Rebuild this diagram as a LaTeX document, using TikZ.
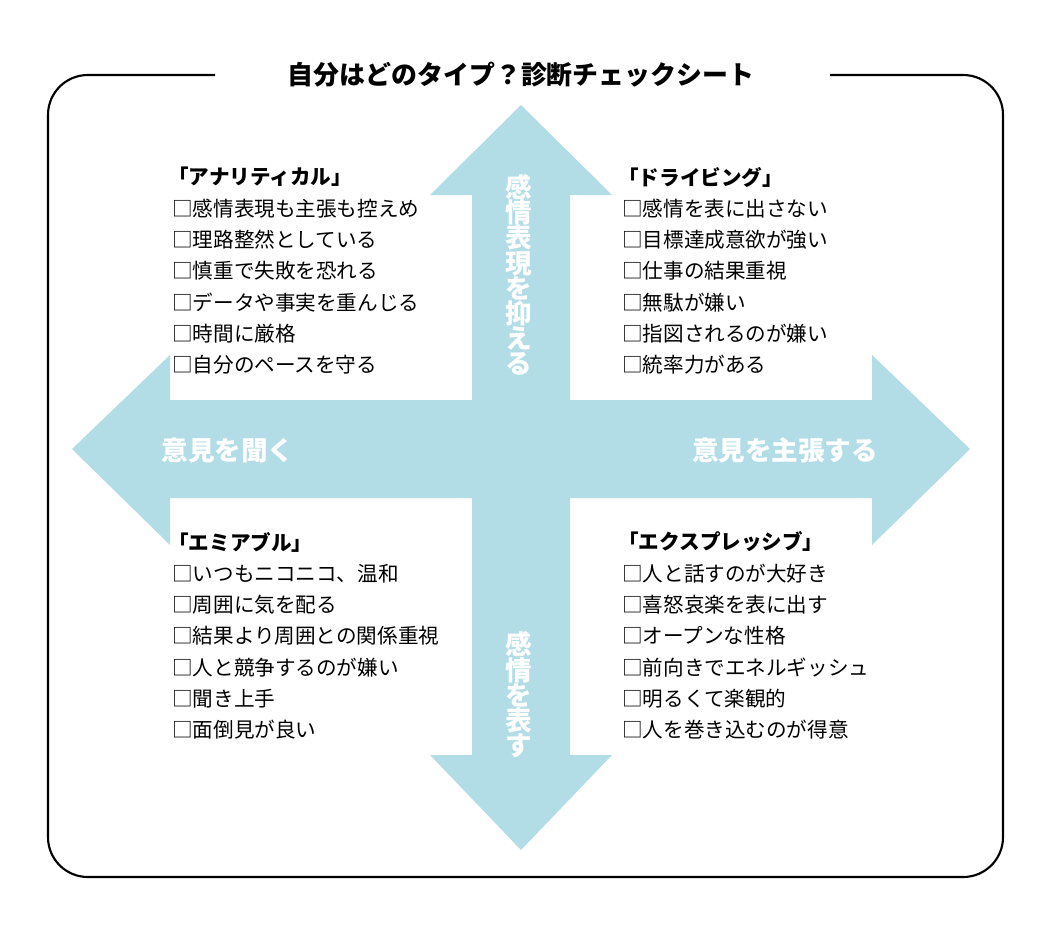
\documentclass[tikz,border=0pt]{standalone}
\usepackage{fontspec}
\setmainfont{Noto Sans CJK JP}
\newfontfamily\jpbold{Noto Sans CJK JP}[FakeBold=1.5]
\usetikzlibrary{positioning}
\definecolor{crossblue}{RGB}{178,221,231}
\begin{document}
\begin{tikzpicture}[x=0.0264583cm,y=-0.0264583cm,
  item/.style={anchor=west, inner sep=0pt, font=\fontsize{15.5}{18}\selectfont},
  head/.style={item, font=\fontsize{15.5}{18}\selectfont\bfseries},
  axis/.style={text=white, inner sep=0pt, font=\fontsize{20}{22}\selectfont\bfseries},
  ]
\useasboundingbox (0,0) rectangle (1060,929);
% cross of arrows
\fill[crossblue] (521,105) -- (612,195) -- (570,195) -- (570,400) -- (872,400)
  -- (872,355) -- (970,449) -- (872,545) -- (872,498) -- (570,498) -- (570,755)
  -- (612,755) -- (521,850) -- (430,755) -- (472,755) -- (472,498) -- (170,498)
  -- (170,545) -- (72,449) -- (170,355) -- (170,400) -- (472,400) -- (472,195)
  -- (430,195) -- cycle;
% frame
\draw[line width=1.6pt, rounded corners=30] (215,75) -- (48,75) -- (48,877)
  -- (1003,877) -- (1003,75) -- (830,75);
\node[font=\fontsize{19.5}{22}\selectfont\bfseries] (title) at (521,75) {自分はどのタイプ？診断チェックシート};
% axis labels
\node[axis, align=center] (top) at (519,275) {感\\[-3pt]情\\[-3pt]表\\[-3pt]現\\[-3pt]を\\[-3pt]抑\\[-3pt]え\\[-3pt]る};
\node[axis, align=center] (bottom) at (519,695) {感\\[-3pt]情\\[-3pt]を\\[-3pt]表\\[-3pt]す};
\node[axis] (left) at (228,450) {意見を聞く};
\node[axis] (right) at (785,450) {意見を主張する};
% quadrants
\node[head] (ul) at (168,177) {「アナリティカル」};
\foreach \t [count=\i] in {□感情表現も主張も控えめ,□理路整然としている,□慎重で失敗を恐れる,□データや事実を重んじる,□時間に厳格,□自分のペースを守る}
  \node[item] (ul\i) at (172,177+31.3*\i) {\t};
\node[head] (ur) at (618,177) {「ドライビング」};
\foreach \t [count=\i] in {□感情を表に出さない,□目標達成意欲が強い,□仕事の結果重視,□無駄が嫌い,□指図されるのが嫌い,□統率力がある}
  \node[item] (ur\i) at (622,177+31.3*\i) {\t};
\node[head] (ll) at (168,542) {「エミアブル」};
\foreach \t [count=\i] in {□いつもニコニコ、温和,□周囲に気を配る,□結果より周囲との関係重視,□人と競争するのが嫌い,□聞き上手,□面倒見が良い}
  \node[item] (ll\i) at (172,542+31.3*\i) {\t};
\node[head] (lr) at (618,542) {「エクスプレッシブ」};
\foreach \t [count=\i] in {□人と話すのが大好き,□喜怒哀楽を表に出す,□オープンな性格,□前向きでエネルギッシュ,□明るくて楽観的,□人を巻き込むのが得意}
  \node[item] (lr\i) at (622,542+31.3*\i) {\t};
\end{tikzpicture}
\end{document}
